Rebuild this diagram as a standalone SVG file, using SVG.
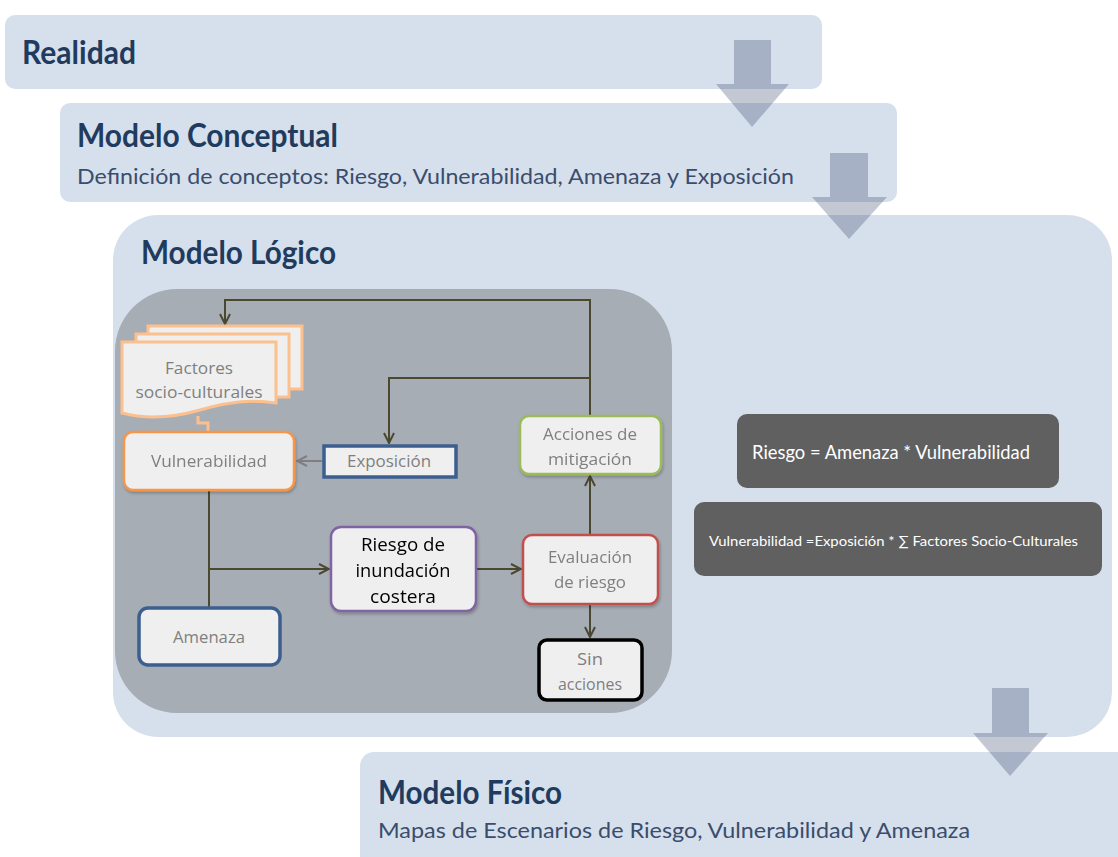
<svg xmlns="http://www.w3.org/2000/svg" width="1118" height="857" viewBox="0 0 1118 857">
<defs>
<style>
.band{fill:#d6e0ec;}
.title{font-family:Lato,"Open Sans",sans-serif;font-weight:bold;fill:#213b5f;}
.sub{font-family:Lato,"Open Sans",sans-serif;fill:#3a4d6c;font-size:22px;}
.node{fill:#efefef;}
.nt{font-family:"Open Sans","Noto Sans",sans-serif;font-size:17px;fill:#7f7f7f;text-anchor:middle;}
.bt{font-family:"Open Sans","Noto Sans",sans-serif;font-size:19px;fill:#000000;text-anchor:middle;}
.dark{fill:#5f605f;}
.dt{font-family:Lato,"Open Sans",sans-serif;fill:#ffffff;}
.conn{fill:none;stroke:#4b4830;stroke-width:2;}
.bigarrow{fill:#2c3a60;fill-opacity:0.28;}
</style>
<marker id="ah" viewBox="0 0 12 12" refX="11" refY="6" markerWidth="12" markerHeight="12" markerUnits="userSpaceOnUse" orient="auto">
<path d="M1,1 L11,6 L1,11" fill="none" stroke="#4b4830" stroke-width="2"/>
</marker>
<marker id="ahg" viewBox="0 0 12 12" refX="11" refY="6" markerWidth="12" markerHeight="12" markerUnits="userSpaceOnUse" orient="auto">
<path d="M1,1 L11,6 L1,11" fill="none" stroke="#7f7f7f" stroke-width="2"/>
</marker>
<filter id="sh" x="-10%" y="-10%" width="130%" height="140%">
<feDropShadow dx="1" dy="2" stdDeviation="1.5" flood-color="#000" flood-opacity="0.25"/>
</filter>
</defs>

<g id="realidad">
<rect class="band" x="5" y="15" width="817" height="74" rx="10"/>
<text class="title" x="22" y="64" font-size="33" textLength="114" lengthAdjust="spacingAndGlyphs">Realidad</text>
</g>

<g id="modelo-conceptual">
<rect class="band" x="60" y="103" width="837" height="99" rx="10"/>
<text class="title" x="77" y="147" font-size="33" textLength="261" lengthAdjust="spacingAndGlyphs">Modelo Conceptual</text>
<text class="sub" x="77" y="184" textLength="717" lengthAdjust="spacingAndGlyphs">Definición de conceptos: Riesgo, Vulnerabilidad, Amenaza y Exposición</text>
</g>

<g id="modelo-logico">
<rect class="band" x="113" y="215" width="999" height="522" rx="45"/>
<text class="title" x="141" y="264" font-size="33" textLength="195" lengthAdjust="spacingAndGlyphs">Modelo Lógico</text>
<rect x="115" y="289" width="557" height="424" rx="62" fill="#a7adb5"/>
</g>

<g id="modelo-fisico">
<rect class="band" x="360" y="752" width="780" height="120" rx="14"/>
<text class="title" x="378" y="804" font-size="33" textLength="184" lengthAdjust="spacingAndGlyphs">Modelo Físico</text>
<text class="sub" x="378" y="838" textLength="592" lengthAdjust="spacingAndGlyphs">Mapas de Escenarios de Riesgo, Vulnerabilidad y Amenaza</text>
</g>

<g id="formula-riesgo">
<rect class="dark" x="737" y="414" width="322" height="74" rx="10"/>
<text class="dt" x="752" y="459" font-size="19" textLength="278" lengthAdjust="spacingAndGlyphs">Riesgo = Amenaza * Vulnerabilidad</text>
</g>

<g id="formula-vulnerabilidad">
<rect class="dark" x="694" y="502" width="408" height="74" rx="10"/>
<text class="dt" x="709" y="546" font-size="14" textLength="369" lengthAdjust="spacingAndGlyphs">Vulnerabilidad =Exposición * ∑ Factores Socio-Culturales</text>
</g>

<g id="connectors">
<path class="conn" d="M590,416 V300 H225 V324" marker-end="url(#ah)"/>
<path class="conn" d="M590,378 H389 V443" marker-end="url(#ah)"/>
<path d="M322,461 H297" fill="none" stroke="#7f7f7f" stroke-width="2" marker-end="url(#ahg)"/>
<path class="conn" d="M209,490 V607"/>
<path class="conn" d="M209,569 H329" marker-end="url(#ah)"/>
<path class="conn" d="M476,569 H521" marker-end="url(#ah)"/>
<path class="conn" d="M590,535 V476" marker-end="url(#ah)"/>
<path class="conn" d="M590,603 V637" marker-end="url(#ah)"/>
</g>

<g id="factores">
<path d="M198,416 V423 H208 V433" fill="none" stroke="#fbc08e" stroke-width="3"/>
<rect class="node" x="148" y="326" width="154" height="63" stroke="#fbc08e" stroke-width="3"/>
<rect class="node" x="136" y="334" width="153" height="63" stroke="#fbc08e" stroke-width="3"/>
<path class="node" d="M122,342 H276 V403 C250,399 228,402 200,410 C172,418 145,419 122,413 Z" stroke="#fbc08e" stroke-width="3"/>
<text class="nt" x="199" y="374" textLength="68" lengthAdjust="spacingAndGlyphs">Factores</text>
<text class="nt" x="199" y="398" textLength="127" lengthAdjust="spacingAndGlyphs">socio-culturales</text>
</g>

<g id="vulnerabilidad" filter="url(#sh)">
<rect class="node" x="124" y="432" width="170" height="58" rx="9" stroke="#f79646" stroke-width="2.5"/>
<text class="nt" x="209" y="467" textLength="116" lengthAdjust="spacingAndGlyphs">Vulnerabilidad</text>
</g>

<g id="exposicion">
<rect class="node" x="324" y="446" width="132" height="31" stroke="#3c5f8f" stroke-width="3.5"/>
<text class="nt" x="389" y="467" textLength="84" lengthAdjust="spacingAndGlyphs">Exposición</text>
</g>

<g id="acciones" filter="url(#sh)">
<rect class="node" x="520" y="416" width="141" height="58" rx="9" stroke="#9bbb59" stroke-width="2.5"/>
<text class="nt" x="590" y="440" textLength="94" lengthAdjust="spacingAndGlyphs">Acciones de</text>
<text class="nt" x="590" y="465" textLength="84" lengthAdjust="spacingAndGlyphs">mitigación</text>
</g>

<g id="riesgo" filter="url(#sh)">
<rect class="node" x="331" y="527" width="145" height="84" rx="10" stroke="#8064a2" stroke-width="2.5"/>
<text class="bt" x="403" y="551" textLength="84" lengthAdjust="spacingAndGlyphs">Riesgo de</text>
<text class="bt" x="403" y="577" textLength="95" lengthAdjust="spacingAndGlyphs">inundación</text>
<text class="bt" x="403" y="603" textLength="66" lengthAdjust="spacingAndGlyphs">costera</text>
</g>

<g id="evaluacion" filter="url(#sh)">
<rect class="node" x="523" y="535" width="135" height="69" rx="9" stroke="#c0504d" stroke-width="2.5"/>
<text class="nt" x="590" y="563" textLength="84" lengthAdjust="spacingAndGlyphs">Evaluación</text>
<text class="nt" x="590" y="588" textLength="72" lengthAdjust="spacingAndGlyphs">de riesgo</text>
</g>

<g id="amenaza">
<rect class="node" x="139" y="608" width="141" height="57" rx="9" stroke="#3c5f8f" stroke-width="3.5"/>
<text class="nt" x="209" y="643" textLength="72" lengthAdjust="spacingAndGlyphs">Amenaza</text>
</g>

<g id="sin-acciones">
<rect class="node" x="539" y="640" width="103" height="60" rx="8" stroke="#000" stroke-width="3.5"/>
<text class="nt" x="590" y="665" textLength="26" lengthAdjust="spacingAndGlyphs">Sin</text>
<text class="nt" x="590" y="690" textLength="64" lengthAdjust="spacingAndGlyphs">acciones</text>
</g>

<g id="flow-arrows">
<path class="bigarrow" d="M734,40 H771 V84 H789 L752,127 L716,84 H734 Z"/>
<path class="bigarrow" d="M830,153 H868 V197 H887 L849,239 L812,197 H830 Z"/>
<path class="bigarrow" d="M992,688 H1029 V733 H1048 L1010,776 L973,733 H992 Z"/>
</g>
</svg>
